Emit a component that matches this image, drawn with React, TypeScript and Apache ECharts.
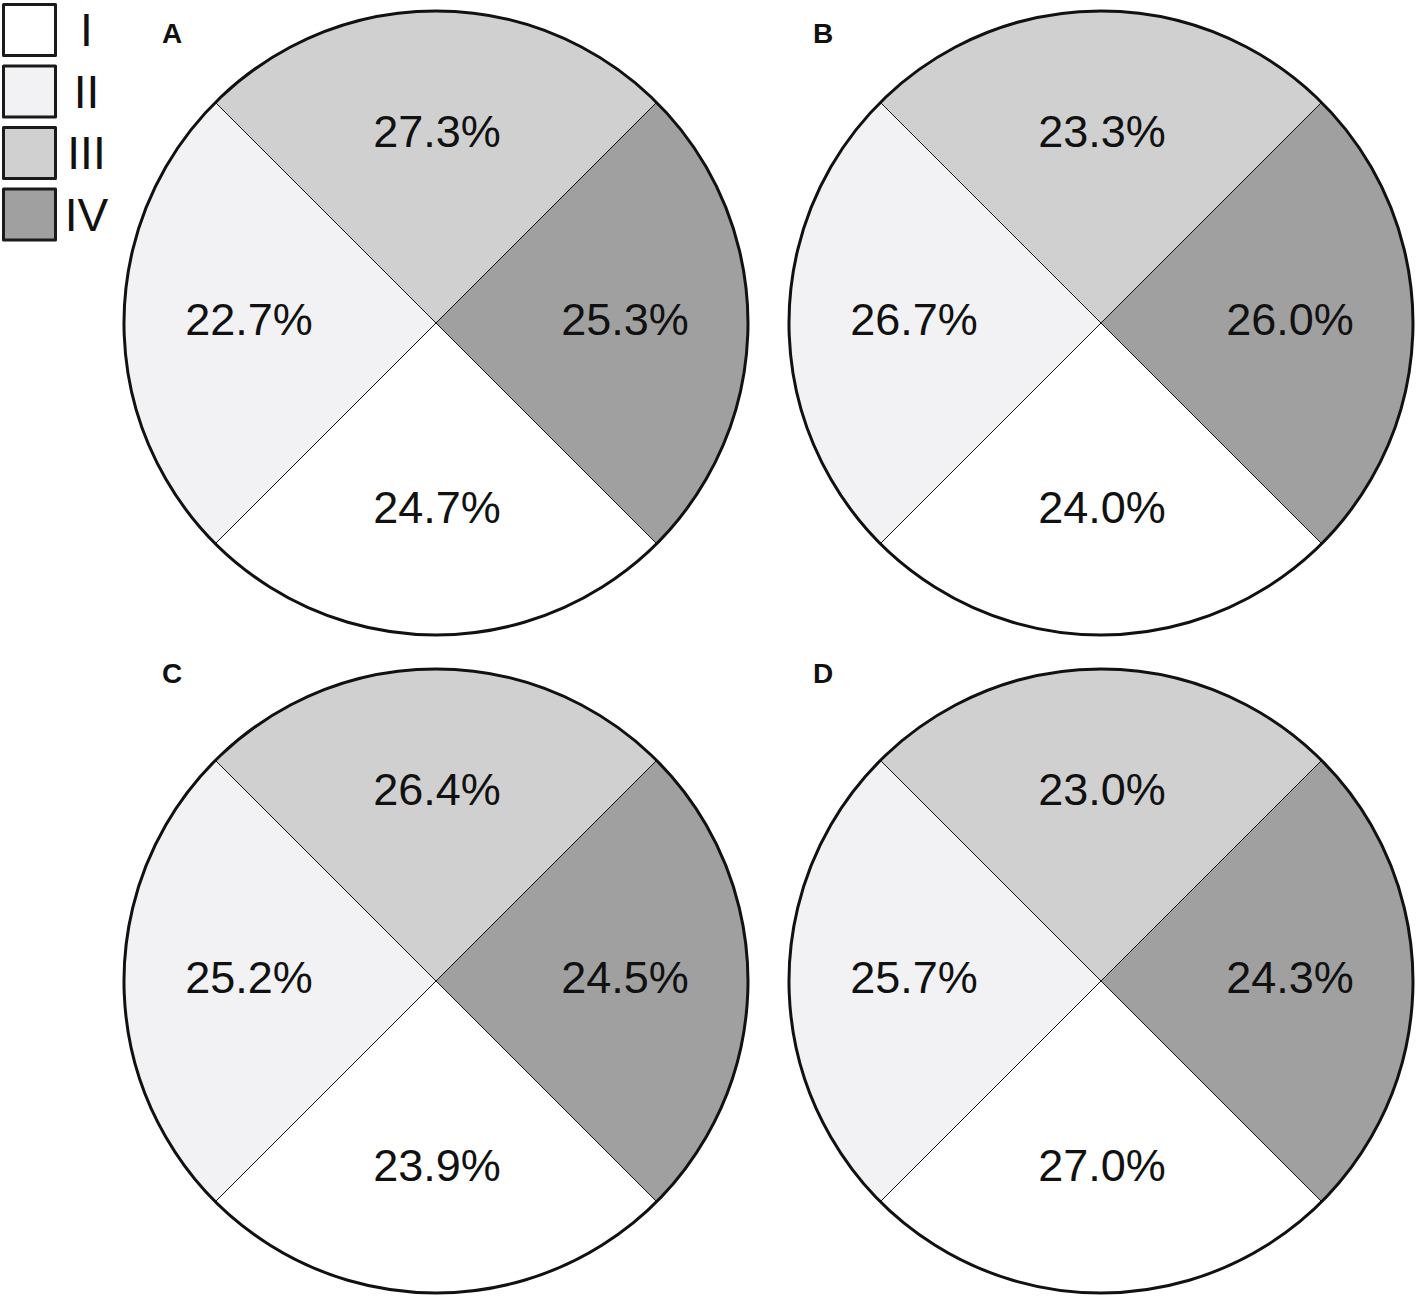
import React, { useEffect, useRef } from "react";
import * as echarts from "echarts";

// Categories (quadrant classes) and the share of the circle each slice occupies
const categories = ["I", "II", "III", "IV"];
const quadrantShares = [25, 25, 25, 25]; // each slice is drawn as an equal quarter
const panelNames = ["A", "B", "C", "D"];

// Percentages printed in each slice, ordered I, II, III, IV
const panelA = [24.7, 22.7, 27.3, 25.3];
const panelB = [24.0, 26.7, 23.3, 26.0];
const panelC = [23.9, 25.2, 26.4, 24.5];
const panelD = [27.0, 25.7, 23.0, 24.3];
const panelValues = [panelA, panelB, panelC, panelD];

// Styling / layout
const sliceColors = ["#ffffff", "#f2f2f4", "#d0d0d0", "#a0a0a0"];
const FONT = '"Liberation Sans", Arial, Helvetica, sans-serif';
const centers: [number, number][] = [
  [436, 323],
  [1101, 323],
  [436, 981],
  [1101, 981],
];
const letterPos: [number, number][] = [
  [172, 33],
  [823, 33],
  [172, 673],
  [823, 673],
];
const R = 312;

export default function App() {
  const ref = useRef<HTMLDivElement>(null);
  useEffect(() => {
    if (!ref.current) return;
    const chart = echarts.init(ref.current, undefined, { renderer: "svg" });
    const series: any[] = [];
    panelValues.forEach((vals, p) => {
      const center = centers[p];
      // slices
      series.push({
        type: "pie",
        name: panelNames[p],
        center,
        radius: [0, R],
        startAngle: -45,
        clockwise: true,
        silent: true,
        avoidLabelOverlap: false,
        label: { show: false },
        labelLine: { show: false },
        emphasis: { disabled: true },
        itemStyle: { borderColor: "#111", borderWidth: 1 },
        data: categories.map((c, i) => ({
          name: c,
          value: quadrantShares[i],
          itemStyle: { color: sliceColors[i] },
        })),
      });
      // outer outline
      series.push({
        type: "pie",
        name: panelNames[p] + "-outline",
        center,
        radius: [0, R],
        silent: true,
        label: { show: false },
        labelLine: { show: false },
        emphasis: { disabled: true },
        itemStyle: { color: "rgba(0,0,0,0)", borderColor: "#111", borderWidth: 3 },
        data: [{ name: "outline", value: 1 }],
      });
      // labels
      series.push({
        type: "pie",
        name: panelNames[p] + "-labels",
        center,
        radius: [58, R],
        startAngle: -45,
        clockwise: true,
        silent: true,
        avoidLabelOverlap: false,
        emphasis: { disabled: true },
        itemStyle: { color: "rgba(0,0,0,0)", borderWidth: 0 },
        label: {
          show: true,
          position: "inside",
          fontSize: 45,
          fontFamily: FONT,
          color: "#111",
          offset: [1, -4],
          formatter: (prm: any) => `${vals[prm.dataIndex].toFixed(1)}%`,
        },
        labelLine: { show: false },
        data: categories.map((c, i) => ({ name: c, value: quadrantShares[i] })),
      });
    });

    chart.setOption({
      animation: false,
      backgroundColor: "#ffffff",
      legend: {
        data: categories,
        orient: "vertical",
        left: 2,
        top: 3,
        padding: 0,
        icon: "rect",
        itemWidth: 52,
        itemHeight: 51,
        itemGap: 7.5,
        selectedMode: false,
        itemStyle: { borderColor: "#1a1a1a", borderWidth: 3 },
        formatter: (name: string) => `{c|${name}}`,
        textStyle: {
          fontSize: 46,
          lineHeight: 44,
          fontFamily: FONT,
          color: "#111",
          rich: {
            c: {
              width: 52,
              align: "center",
              fontSize: 46,
              lineHeight: 44,
              fontFamily: FONT,
              color: "#111",
            },
          },
        },
      },
      graphic: panelNames.map((n, i) => ({
        type: "text",
        x: letterPos[i][0],
        y: letterPos[i][1],
        silent: true,
        style: {
          text: n,
          fontSize: 28,
          fontWeight: "bold",
          fontFamily: FONT,
          fill: "#111",
          align: "center",
          verticalAlign: "middle",
        },
      })),
      series,
    });
    return () => chart.dispose();
  }, []);
  return (
    <div
      ref={ref}
      style={{ position: "fixed", left: 0, top: 0, width: 1417, height: 1297, background: "#fff" }}
    />
  );
}
